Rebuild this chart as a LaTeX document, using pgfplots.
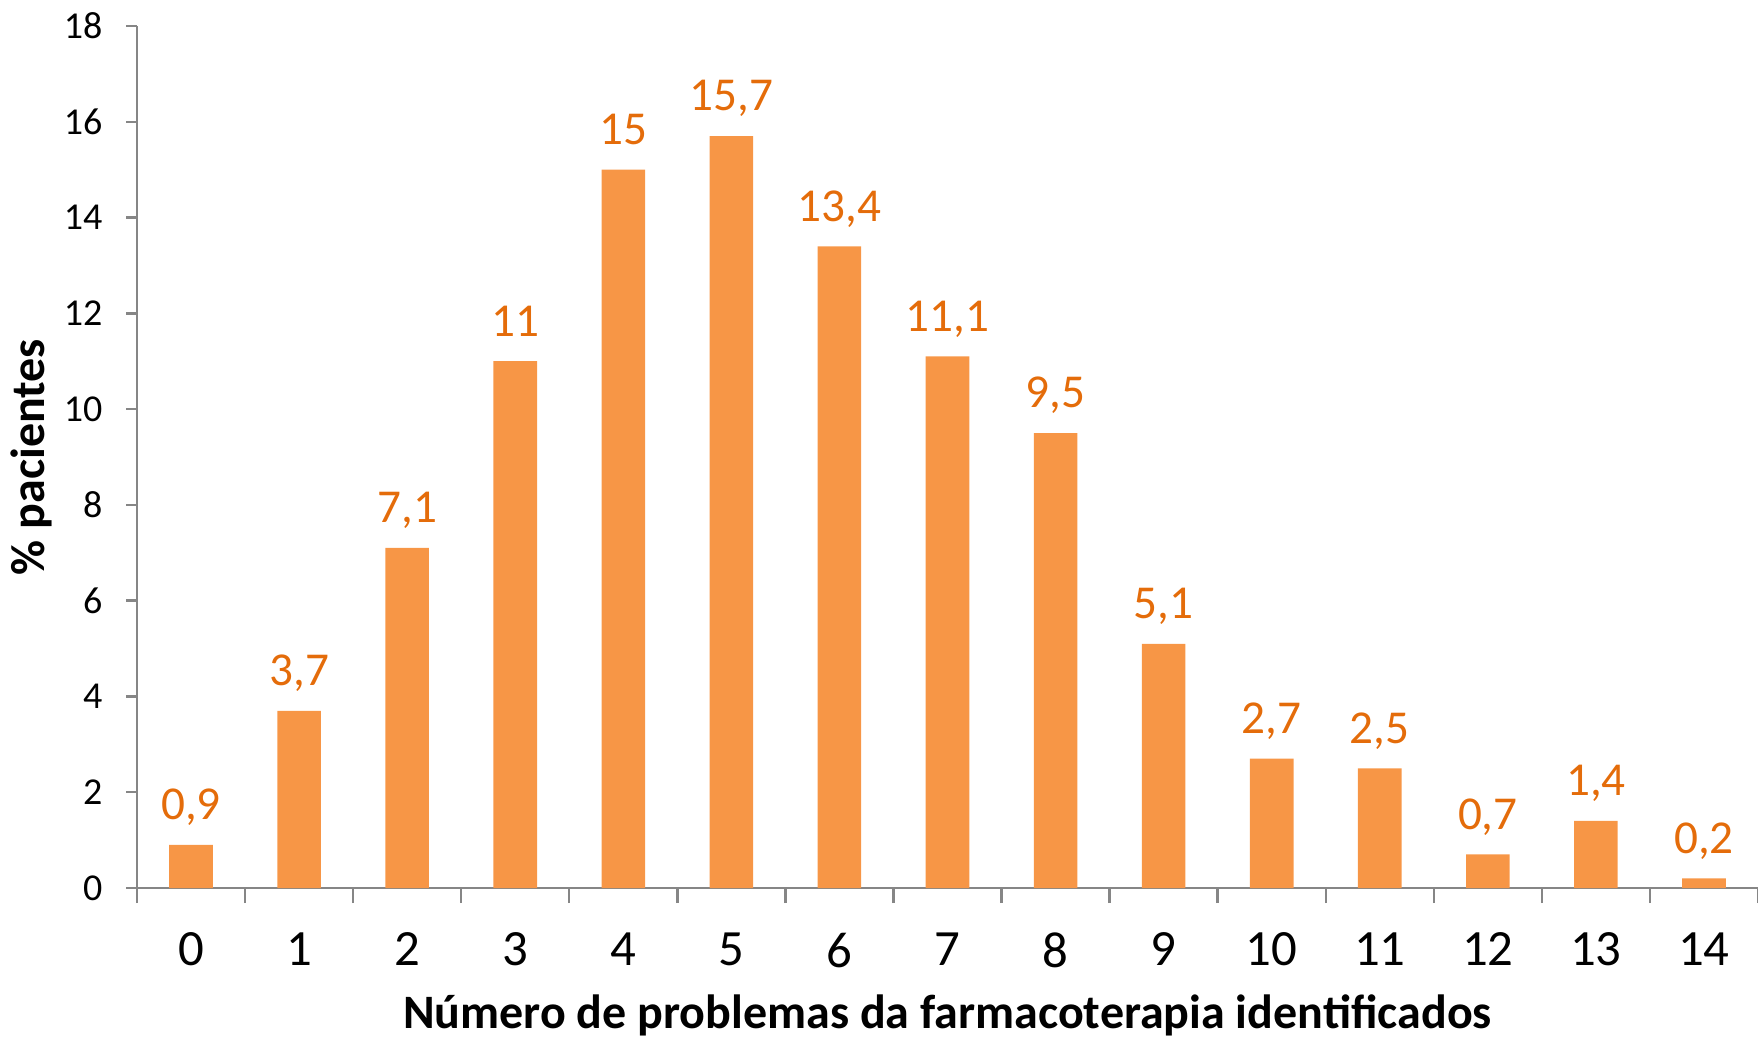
\documentclass[border=0pt]{standalone}
\usepackage{fontspec}
\setmainfont{Carlito}
\usepackage{pgfplots}
\pgfplotsset{compat=1.18}
\definecolor{barorange}{HTML}{F79646}
\definecolor{lblorange}{HTML}{E46C0A}
\definecolor{axgray}{HTML}{868686}

\begin{document}
\begin{tikzpicture}
\useasboundingbox (-34.25pt,-38.25pt) rectangle (405.25pt,222pt);
\begin{axis}[
  scale only axis, width=405.25pt, height=215.5pt,
  at={(0,0)}, anchor=south west,
  ybar, bar width=10.9pt,
  xmin=-0.5, xmax=14.5, ymin=0, ymax=18,
  xtick={0,...,14}, minor xtick={-0.5,0.5,...,14.5},
  ytick={0,2,...,18},
  axis lines*=left, axis line style={axgray, line width=0.6pt},
  tick align=outside,
  major tick length=2.7pt, minor tick length=3.75pt,
  major x tick style={draw=none},
  minor x tick style={axgray, line width=0.6pt},
  major y tick style={axgray, line width=0.6pt},
  /pgf/number format/assume math mode=true,
  /pgf/number format/use comma,
  yticklabel style={font=\fontsize{9.5}{11}\selectfont, xshift=-2.4pt},
  xticklabel style={font=\fontsize{12.7}{15}\selectfont, yshift=-5pt},
  xlabel={\bfseries Número de problemas da farmacoterapia identificados},
  ylabel={\bfseries \% pacientes},
  xlabel style={font=\fontsize{12}{14}\selectfont, at={(axis description cs:0.5,0)}, anchor=center, yshift=-31.75pt},
  ylabel style={font=\fontsize{12}{14}\selectfont, at={(axis description cs:-0.0654,0.5)}, anchor=center},
  nodes near coords,
  every node near coord/.append style={font=\fontsize{11.8}{14}\selectfont, text=lblorange, anchor=base, yshift=6.3pt},
  clip=false,
]
\addplot[fill=barorange, draw=none] coordinates {
  (0,0.9) (1,3.7) (2,7.1) (3,11) (4,15) (5,15.7) (6,13.4) (7,11.1)
  (8,9.5) (9,5.1) (10,2.7) (11,2.5) (12,0.7) (13,1.4) (14,0.2)};
\end{axis}
\end{tikzpicture}
\end{document}
